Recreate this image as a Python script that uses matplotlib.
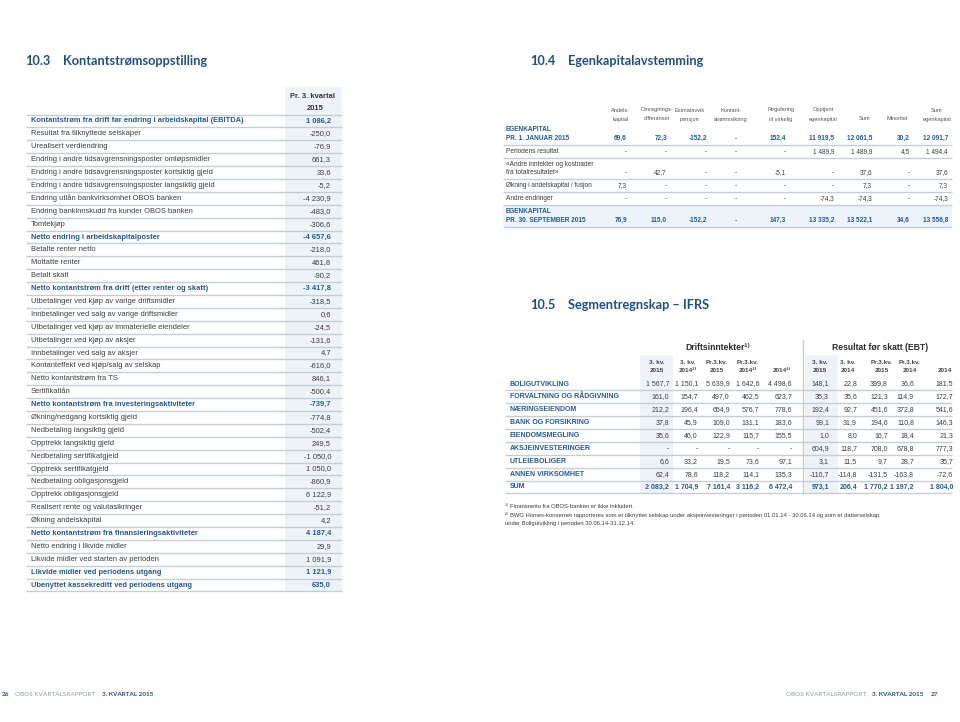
import matplotlib.pyplot as plt
from matplotlib.patches import Rectangle

# ---- data -------------------------------------------------------------
cf_labels = [
    "Kontantstrøm fra drift før endring i arbeidskapital (EBITDA)",
    "Resultat fra tilknyttede selskaper",
    "Urealisert verdiendring",
    "Endring i andre tidsavgrensningsposter omløpsmidler",
    "Endring i andre tidsavgrensningsposter kortsiktig gjeld",
    "Endring i andre tidsavgrensningsposter langsiktig gjeld",
    "Endring utlån bankvirksomhet OBOS banken",
    "Endring bankinnskudd fra kunder OBOS banken",
    "Tomtekjøp",
    "Netto endring i arbeidskapitalposter",
    "Betalte renter netto",
    "Mottatte renter",
    "Betalt skatt",
    "Netto kontantstrøm fra drift (etter renter og skatt)",
    "Utbetalinger ved kjøp av varige driftsmidler",
    "Innbetalinger ved salg av varige driftsmidler",
    "Utbetalinger ved kjøp av immaterielle eiendeler",
    "Utbetalinger ved kjøp av aksjer",
    "Innbetalinger ved salg av aksjer",
    "Kontanteffekt ved kjøp/salg av selskap",
    "Netto kontantstrøm fra TS",
    "Sertifikatlån",
    "Netto kontantstrøm fra investeringsaktiviteter",
    "Økning/nedgang kortsiktig gjeld",
    "Nedbetaling langsiktig gjeld",
    "Opptrekk langsiktig gjeld",
    "Nedbetaling sertifikatgjeld",
    "Opptrekk sertifikatgjeld",
    "Nedbetaling obligasjonsgjeld",
    "Opptrekk obligasjonsgjeld",
    "Realisert rente og valutasikringer",
    "Økning andelskapital",
    "Netto kontantstrøm fra finansieringsaktiviteter",
    "Netto endring i likvide midler",
    "Likvide midler ved starten av perioden",
    "Likvide midler ved periodens utgang",
    "Ubenyttet kassekreditt ved periodens utgang",
]
cf_values = [1086.2, -250.0, -76.9, 661.3, 33.6, -5.2, -4230.9, -483.0, -306.6,
             -4657.6, -218.0, 461.8, -90.2, -3417.8, -318.5, 0.6, -24.5, -131.6,
             4.7, -616.0, 846.1, -500.4, -739.7, -774.8, -502.4, 249.5, -1050.0,
             1050.0, -860.9, 6122.9, -51.2, 4.2, 4187.4, 29.9, 1091.9, 1121.9, 635.0]
cf_bold = [0, 9, 13, 22, 32, 35, 36]

eq_cols = [["Andels-", "kapital"], ["Omregnings-", "differanser"], ["Esimatavvik", "pensjon"],
           ["Kontant-", "strømssikring"], ["Regulering", "til virkelig"], ["Opptjent", "egenkapital"],
           ["Sum"], ["Minoritet"], ["Sum", "egenkapital"]]
eq_rows = [["EGENKAPITAL", "PR. 1. JANUAR 2015"], ["Periodens resultat"],
           ["«Andre inntekter og kostnader", "fra totalresultatet»"],
           ["Økning i andelskapital / fusjon"], ["Andre endringer"],
           ["EGENKAPITAL", "PR. 30. SEPTEMBER 2015"]]
eq_values = [
    [69.6, 72.3, -152.2, None, 152.4, 11919.5, 12061.5, 30.2, 12091.7],
    [None, None, None, None, None, 1489.9, 1489.9, 4.5, 1494.4],
    [None, 42.7, None, None, -5.1, None, 37.6, None, 37.6],
    [7.3, None, None, None, None, None, 7.3, None, 7.3],
    [None, None, None, None, None, -74.3, -74.3, None, -74.3],
    [76.9, 115.0, -152.2, None, 147.3, 13335.2, 13522.1, 34.6, 13556.8],
]
eq_bold = [0, 5]

seg_rows = ["BOLIGUTVIKLING", "FORVALTNING OG RÅDGIVNING", "NÆRINGSEIENDOM",
            "BANK OG FORSIKRING", "EIENDOMSMEGLING", "AKSJEINVESTERINGER",
            "UTLEIEBOLIGER", "ANNEN VIRKSOMHET", "SUM"]
seg_cols = [["3. kv.", "2015"], ["3. kv.", "2014²⁾"], ["Pr.3.kv.", "2015"], ["Pr.3.kv.", "2014²⁾"], ["2014²⁾"],
            ["3. kv.", "2015"], ["3. kv.", "2014"], ["Pr.3.kv.", "2015"], ["Pr.3.kv.", "2014"], ["2014"]]
seg_revenue = [
    [1567.7, 1150.1, 5639.9, 1642.6, 4498.6],
    [161.0, 154.7, 497.0, 462.5, 623.7],
    [212.2, 196.4, 654.9, 576.7, 778.6],
    [37.8, 45.9, 109.0, 131.1, 183.6],
    [35.6, 46.0, 122.9, 115.7, 155.5],
    [None, None, None, None, None],
    [6.6, 33.2, 19.5, 73.6, 97.1],
    [62.4, 78.6, 118.2, 114.1, 135.3],
    [2083.2, 1704.9, 7161.4, 3116.2, 6472.4],
]
seg_ebt = [
    [148.1, 22.8, 399.8, 36.6, 181.5],
    [35.3, 35.6, 121.3, 114.9, 172.7],
    [192.4, 92.7, 451.6, 372.8, 541.6],
    [99.1, 31.9, 194.6, 110.8, 146.3],
    [1.0, 8.0, 16.7, 18.4, 21.3],
    [604.9, 118.7, 708.0, 678.8, 777.3],
    [3.1, 11.5, 9.7, 28.7, 35.7],
    [-110.7, -114.8, -131.5, -163.8, -72.6],
    [973.1, 206.4, 1770.2, 1197.2, 1804.0],
]
seg_notes = ["¹⁾ Finansnetto fra OBOS-banken er ikke inkludert.",
             "²⁾ BWG Homes-konsernet rapporteres som et tilknyttet selskap under aksjeinvesteringer i perioden 01.01.14 - 30.06.14 og som et datterselskap",
             "under Boligutvikling i perioden 30.06.14-31.12.14."]

# ---- style ------------------------------------------------------------
BLUE = "#1f4f82"
ROWBLUE = "#23598f"
TXT = "#3a3a3a"
LINE = "#c2cdd8"
SHADE = "#edf3f9"
FONT = ["Liberation Sans", "DejaVu Sans"]
HEAD = ["Lato", "DejaVu Sans"]


def fmt(v):
    if v is None:
        return "-"
    s = f"{abs(v):,.1f}".replace(",", " ").replace(".", ",")
    return ("-" if v < 0 else "") + s


fig = plt.figure(figsize=(9.6, 7.22), dpi=100)
ax = fig.add_axes([0, 0, 1, 1])
ax.set_xlim(0, 960)
ax.set_ylim(722, 0)
ax.axis("off")


def t(x, y, s, size=5.3, color=TXT, bold=False, ha="left", family=FONT):
    ax.text(x, y, s, fontsize=size, color=color, ha=ha, va="center",
            fontweight="bold" if bold else "normal", family=family)


def hline(y, x0, x1):
    ax.plot([x0, x1], [y, y], color=LINE, lw=1.0, solid_capstyle="butt")


# ---- titles & footers ---------------------------------------------------
for x, num, name, y in [(25, "10.3", "Kontantstrømsoppstilling", 61),
                        (530, "10.4", "Egenkapitalavstemming", 61),
                        (530, "10.5", "Segmentregnskap – IFRS", 305)]:
    t(x, y, num, 9.2, BLUE, True, family=HEAD)
    t(x + 38, y, name, 9.2, BLUE, True, family=HEAD)

t(2, 695, "26", 4.6, BLUE, True, family=HEAD)
t(15, 695, "OBOS KVARTALSRAPPORT", 4.6, "#8c9aa8", family=HEAD)
t(102, 695, "3. KVARTAL 2015", 4.6, BLUE, True, family=HEAD)
t(786, 695, "OBOS KVARTALSRAPPORT", 4.6, "#8c9aa8", family=HEAD)
t(872, 695, "3. KVARTAL 2015", 4.6, BLUE, True, family=HEAD)
t(931, 695, "27", 4.6, BLUE, True, family=HEAD)

# ---- 10.3 cash flow table ----------------------------------------------
y0, dy = 121, 12.89
ax.add_patch(Rectangle((285, 87), 57, y0 + dy * (len(cf_labels) - 0.5) - 87, color=SHADE, lw=0))
t(313, 97, "Pr. 3. kvartal", 5.4, "#333333", True, ha="center")
t(315, 109, "2015", 5.4, "#333333", True, ha="center")
hline(y0 - dy / 2, 26, 342)
for i, (lab, v) in enumerate(zip(cf_labels, cf_values)):
    y = y0 + i * dy
    b = i in cf_bold
    c = ROWBLUE if b else TXT
    t(31, y, lab, 5.45, c, b)
    t(331, y, fmt(v), 5.45, c, b, ha="right")
    hline(y + dy / 2, 26, 342)

# ---- 10.4 equity table -------------------------------------------------
eq_head_x = [621, 657, 690, 731, 781, 823, 865, 897, 937]
eq_val_x = [627, 667, 707, 737, 786, 834, 872, 910, 948]
for x, lines in zip(eq_head_x, eq_cols):
    ys = [110, 119] if len(lines) == 2 else [119]
    for yy, s in zip(ys, lines):
        t(x, yy, s, 4.1, "#555555", ha="center")

top = 123.5
for r, (lab, vals) in enumerate(zip(eq_rows, eq_values)):
    h = 21.5 if len(lab) == 2 else 12.9
    b = r in eq_bold
    if r == len(eq_rows) - 1:
        ax.add_patch(Rectangle((503, top), 449, h, color=SHADE, lw=0))
    c = ROWBLUE if b else TXT
    mid = top + h / 2
    ys = [mid - 4.3, mid + 4.3] if len(lab) == 2 else [mid]
    for yy, s in zip(ys, lab):
        t(506, yy, s, 4.7, c, b)
    for x, v in zip(eq_val_x, vals):
        t(x, ys[-1], fmt(v), 4.7, c, b, ha="right")
    top += h
    hline(top, 503, 952)

# ---- 10.5 segment table ------------------------------------------------
s0, sdy = 384, 12.875
bottom = s0 + sdy * (len(seg_rows) - 0.5)
for x in (640, 805):
    ax.add_patch(Rectangle((x, 355), 33, bottom - 355, color=SHADE, lw=0))
ax.plot([803, 803], [340, bottom], color=LINE, lw=1.0)
t(718, 347, "Driftsinntekter¹⁾", 6.2, "#2b2b2b", True, ha="center")
t(880, 347, "Resultat før skatt (EBT)", 6.2, "#2b2b2b", True, ha="center")

seg_head_x = [657, 688, 717, 748, 782, 820, 848, 882, 910, 945]
seg_val_x = [669, 698, 730, 759, 792, 829, 857, 888, 914, 953]
for x, lines in zip(seg_head_x, seg_cols):
    ys = [362, 371] if len(lines) == 2 else [371]
    for yy, s in zip(ys, lines):
        t(x, yy, s, 4.6, "#444444", True, ha="center")

for i, lab in enumerate(seg_rows):
    y = s0 + i * sdy
    last = i == len(seg_rows) - 1
    t(510, y, lab, 5.0, ROWBLUE, True)
    for x, v in zip(seg_val_x, seg_revenue[i] + seg_ebt[i]):
        t(x, y, fmt(v), 5.0, ROWBLUE if last else TXT, last, ha="right")
    hline(y + sdy / 2, 505, 952)

for k, note in enumerate(seg_notes):
    t(505, 507 + 8 * k, note, 4.2, TXT)

fig.savefig("out.png", dpi=100)
